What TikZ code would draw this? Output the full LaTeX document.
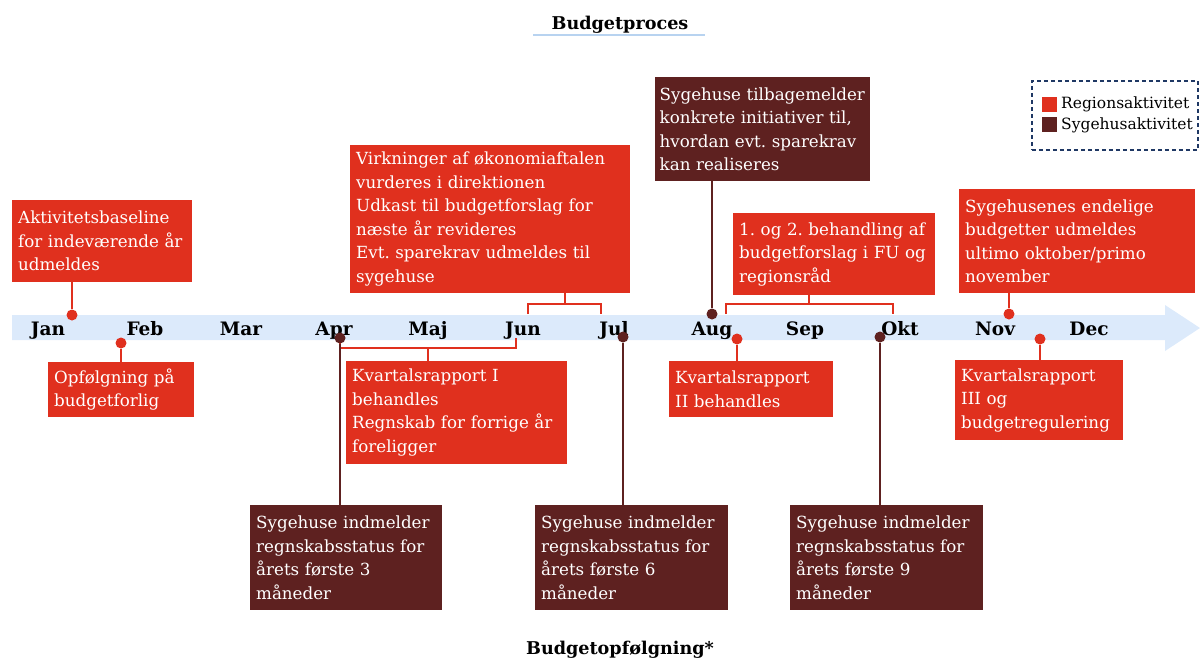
\documentclass[tikz,border=0pt]{standalone}
\usepackage{fontspec}
\setmainfont{DejaVu Serif}
\frenchspacing
\definecolor{regred}{HTML}{E0301E}
\definecolor{hospred}{HTML}{5E2120}
\definecolor{bandblue}{HTML}{DCEAFB}
\definecolor{rulegray}{HTML}{B8D3F0}
\definecolor{navy}{HTML}{1F3864}
\tikzset{
  box/.style={anchor=north west, inner xsep=6pt, inner ysep=0pt, align=left,
    text=white, font=\fontsize{16.7}{23.5}\selectfont},
  bx/.code 2 args={\pgfmathsetmacro\boxw{#1}\pgfmathsetmacro\textw{#1-12}%
    \tikzset{minimum width=\boxw pt, text width=\textw pt, minimum height=#2pt}},
  regbox/.style={box, fill=regred},
  hospbox/.style={box, fill=hospred},
  month/.style={anchor=base, inner sep=0pt, font=\fontsize{18.5}{20}\selectfont\bfseries},
  headline/.style={font=\fontsize{17.6}{20}\selectfont\bfseries},
  rdot/.style={circle, fill=regred, inner sep=0pt, minimum size=11pt},
  hdot/.style={circle, fill=hospred, inner sep=0pt, minimum size=11pt},
  regline/.style={draw=regred, line width=2pt},
  hospline/.style={draw=hospred, line width=2pt},
  bracketline/.style={draw=regred, line width=1.5pt},
  legendbox/.style={draw=navy, dashed, dash pattern=on 4pt off 3pt, line width=1.6pt,
    minimum width=166pt, minimum height=69pt, anchor=north west, inner sep=0pt},
  legendsq/.style={minimum size=15pt, inner sep=0pt},
  legendtxt/.style={anchor=west, inner sep=0pt, font=\fontsize{15.5}{17}\selectfont}
}
\begin{document}
\begin{tikzpicture}[x=1pt, y=-1pt]
\useasboundingbox (0,0) rectangle (1200,659);

% timeline band with arrow head
\fill[bandblue] (12,315) -- (1165,315) -- (1165,305) -- (1200,328) -- (1165,351)
  -- (1165,340) -- (12,340) -- cycle;

% headings
\node[headline] (title) at (620,25) {Budgetproces};
\coordinate (ulL) at (533,35);
\coordinate (ulR) at (705,35);
\draw[rulegray, line width=1.5pt] (ulL) -- (ulR);
\node[headline] (subtitle) at (620,650) {Budgetopfølgning*};

% months
\foreach \m/\x in {Jan/48, Feb/145, Mar/241, Apr/334, Maj/428, Jun/523, Jul/614,
                   Aug/712, Sep/805, Okt/900, Nov/995, Dec/1089}
  \node[month] (m\m) at (\x,335) {\m};

% legend
\node[legendbox] (legend) at (1031,80) {};
\node[legendsq, fill=regred] (sqR) at (1049.5,104.5) {};
\node[legendsq, fill=hospred] (sqH) at (1049.5,124.5) {};
\node[legendtxt] (lgR) at (1061,104) {Regionsaktivitet};
\node[legendtxt] (lgH) at (1061,125) {Sygehusaktivitet};

% activity boxes
\node[regbox, bx={180}{82}] (b1) at (12,200)
  {Aktivitetsbaseline\\for indeværende år\\udmeldes};
\node[regbox, bx={146}{55}] (b2) at (48,362)
  {Opfølgning på\\budgetforlig};
\node[regbox, bx={280}{148}] (b3) at (350,145)
  {Virkninger af økonomiaftalen\\vurderes i direktionen\\Udkast til budgetforslag for\\næste år revideres\\Evt. sparekrav udmeldes til\\sygehuse};
\node[regbox, bx={221}{103}] (b4) at (346,361)
  {Kvartalsrapport I\\behandles\\Regnskab for forrige år\\foreligger};
\node[hospbox, bx={192}{105}] (b5) at (250,505)
  {Sygehuse indmelder\\regnskabsstatus for\\årets første 3\\måneder};
\node[hospbox, bx={193}{105}] (b6) at (535,505)
  {Sygehuse indmelder\\regnskabsstatus for\\årets første 6\\måneder};
\node[hospbox, bx={215}{104}, inner xsep=4.5pt, text width=206pt] (b7) at (655,77)
  {Sygehuse tilbagemelder\\konkrete initiativer til,\\hvordan evt. sparekrav\\kan realiseres};
\node[regbox, bx={202}{82}] (b8) at (733,213)
  {1. og 2. behandling af\\budgetforslag i FU og\\regionsråd};
\node[regbox, bx={164}{56}] (b9) at (669,361)
  {Kvartalsrapport\\II behandles};
\node[hospbox, bx={193}{105}] (b10) at (790,505)
  {Sygehuse indmelder\\regnskabsstatus for\\årets første 9\\måneder};
\node[regbox, bx={236}{104}] (b11) at (959,189)
  {Sygehusenes endelige\\budgetter udmeldes\\ultimo oktober/primo\\november};
\node[regbox, bx={168}{80}] (b12) at (955,360)
  {Kvartalsrapport\\III og\\budgetregulering};

% brackets spanning several months
\coordinate (k1l) at (528,314);
\coordinate (k1r) at (601,314);
\coordinate (k1m) at (565,304);
\draw[bracketline] (k1l) -- ++(0,-10) -| (k1r);
\draw[bracketline] (b3.south -| k1m) -- (k1m);

\coordinate (k2l) at (340,338);
\coordinate (k2r) at (516,338);
\coordinate (k2m) at (428,348);
\draw[bracketline] (k2l) -- ++(0,10) -| (k2r);
\draw[bracketline] (k2m) -- (k2m |- b4.north);

\coordinate (k3l) at (726,314);
\coordinate (k3r) at (893,314);
\coordinate (k3m) at (809,304);
\draw[bracketline] (k3l) -- ++(0,-10) -| (k3r);
\draw[bracketline] (b8.south -| k3m) -- (k3m);

% markers on the timeline
\node[rdot] (dJan) at (72,315) {};
\node[rdot] (dFeb) at (121,343) {};
\node[hdot] (dApr) at (340,338) {};
\node[hdot] (dJul) at (623,337) {};
\node[hdot] (dAug) at (712,314) {};
\node[rdot] (dAugR) at (737,339) {};
\node[hdot] (dOkt) at (880,337) {};
\node[rdot] (dNov) at (1009,314) {};
\node[rdot] (dDec) at (1040,339) {};

% connectors from markers to boxes
\draw[regline] (b1.south -| dJan) -- (dJan);
\draw[regline] (dFeb) -- (dFeb |- b2.north);
\draw[hospline] (dApr) -- (dApr |- b5.north);
\draw[hospline] (dJul) -- (dJul |- b6.north);
\draw[hospline] (b7.south -| dAug) -- (dAug);
\draw[regline] (dAugR) -- (dAugR |- b9.north);
\draw[hospline] (dOkt) -- (dOkt |- b10.north);
\draw[regline] (b11.south -| dNov) -- (dNov);
\draw[regline] (dDec) -- (dDec |- b12.north);
\end{tikzpicture}
\end{document}
